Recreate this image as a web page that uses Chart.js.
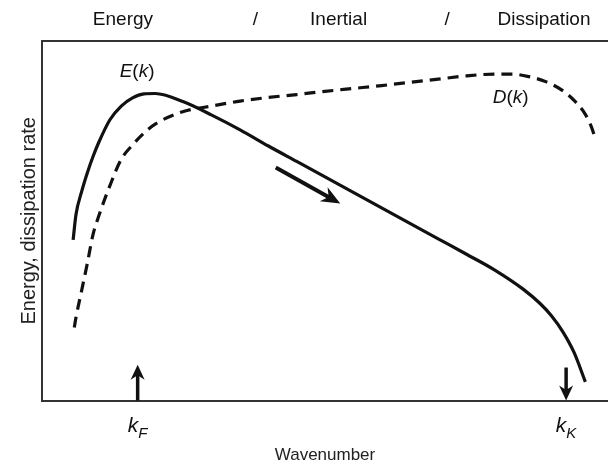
<!DOCTYPE html>
<html>
<head>
<meta charset="utf-8">
<script src="https://cdn.jsdelivr.net/npm/chart.js@4.4.0/dist/chart.umd.min.js"></script>
<style>
  html, body { margin: 0; padding: 0; background: #fff; }
</style>
</head>
<body>
<canvas id="chart" width="608" height="470"></canvas>
<script>
// wavenumber in arbitrary units (0..10)
const kEnergy = [0.55, 0.6, 0.7, 0.8, 0.9, 1.0, 1.2, 1.4, 1.6, 1.8, 2.0, 2.5, 3.0, 3.5, 4.0, 4.5, 5.0, 5.5, 6.0, 6.5, 7.0, 7.5, 8.0, 8.5, 8.8, 9.0, 9.2, 9.4, 9.6];
const energy = [4.47, 5.17, 5.81, 6.33, 6.78, 7.17, 7.81, 8.19, 8.42, 8.53, 8.54, 8.31, 7.94, 7.53, 7.08, 6.65, 6.22, 5.79, 5.36, 4.93, 4.50, 4.07, 3.63, 3.10, 2.70, 2.36, 1.92, 1.34, 0.52];

const kDiss = [0.57, 0.6, 0.7, 0.8, 0.9, 1.0, 1.2, 1.4, 1.6, 1.8, 2.0, 2.5, 3.0, 3.5, 4.0, 4.5, 5.0, 5.5, 6.0, 6.5, 7.0, 7.5, 8.0, 8.3, 8.6, 8.9, 9.2, 9.4, 9.6, 9.7, 9.78];
const dissipation = [2.03, 2.31, 3.06, 3.81, 4.61, 5.12, 5.98, 6.71, 7.11, 7.44, 7.69, 8.04, 8.19, 8.33, 8.43, 8.51, 8.60, 8.68, 8.76, 8.85, 8.94, 9.03, 9.08, 9.08, 9.01, 8.87, 8.62, 8.35, 7.96, 7.64, 7.27];

// forcing and Kolmogorov wavenumbers
const kMarks = [1.69, 9.26];
const kMarkSubs = ['F', 'K'];

// labels across the top and where they sit on the wavenumber axis
const regionNames = ['Energy', '/', 'Inertial', '/', 'Dissipation'];
const regionK = [1.43, 3.77, 5.24, 7.16, 8.87];

// the cascade arrow, from -> to
const cascade = [[4.13, 6.48], [5.27, 5.48]];

const ink = '#111';
const FONT = "'Liberation Sans', Arial, sans-serif";

function toPts(xs, ys) {
    return xs.map((x, i) => ({ x: x, y: ys[i] }));
}

function drawArrow(ctx, x1, y1, x2, y2, headLen, headW, lw) {
    const ang = Math.atan2(y2 - y1, x2 - x1);
    const c = Math.cos(ang), s = Math.sin(ang);
    ctx.beginPath();
    ctx.moveTo(x1, y1);
    ctx.lineTo(x2 - c * headLen * 0.6, y2 - s * headLen * 0.6);
    ctx.lineWidth = lw;
    ctx.strokeStyle = ink;
    ctx.stroke();
    ctx.beginPath();
    ctx.moveTo(x2, y2);
    ctx.lineTo(x2 - c * headLen + s * headW, y2 - s * headLen - c * headW);
    ctx.lineTo(x2 - c * headLen * 0.7, y2 - s * headLen * 0.7);
    ctx.lineTo(x2 - c * headLen - s * headW, y2 - s * headLen + c * headW);
    ctx.closePath();
    ctx.fillStyle = ink;
    ctx.fill();
}

// draws pieces of text (italic / subscript) centred on cx
function drawParts(ctx, parts, cx, cy, size) {
    const fontOf = p => (p.italic ? 'italic ' : '') + (p.sub ? Math.round(size * 0.7) : size) + 'px ' + FONT;
    let total = 0;
    parts.forEach(p => { ctx.font = fontOf(p); total += ctx.measureText(p.t).width; });
    let x = cx - total / 2;
    ctx.textAlign = 'left';
    ctx.textBaseline = 'middle';
    ctx.fillStyle = ink;
    parts.forEach(p => {
        ctx.font = fontOf(p);
        ctx.fillText(p.t, x, cy + (p.sub ? size * 0.35 : 0));
        x += ctx.measureText(p.t).width;
    });
}

const annotations = {
    id: 'annotations',
    afterDatasetsDraw(chart) {
        const ctx = chart.ctx;
        const xs = chart.scales.x, ys = chart.scales.y;
        ctx.save();

        // region labels above the frame
        ctx.font = '19px ' + FONT;
        ctx.fillStyle = ink;
        ctx.textAlign = 'center';
        ctx.textBaseline = 'middle';
        regionNames.forEach((name, i) => {
            ctx.fillText(name, xs.getPixelForValue(regionK[i]), 20);
        });

        // curve names
        drawParts(ctx, [{ t: 'E', italic: true }, { t: '(' }, { t: 'k', italic: true }, { t: ')' }],
            xs.getPixelForValue(1.68), ys.getPixelForValue(9.14), 19);
        drawParts(ctx, [{ t: 'D', italic: true }, { t: '(' }, { t: 'k', italic: true }, { t: ')' }],
            xs.getPixelForValue(8.28), ys.getPixelForValue(8.43), 19);

        // k_F up, k_K down
        const base = ys.getPixelForValue(0);
        drawArrow(ctx, xs.getPixelForValue(kMarks[0]), base, xs.getPixelForValue(kMarks[0]), ys.getPixelForValue(1.0), 15, 7, 3.5);
        drawArrow(ctx, xs.getPixelForValue(kMarks[1]), ys.getPixelForValue(0.92), xs.getPixelForValue(kMarks[1]), base, 15, 7, 3.5);

        kMarks.forEach((k, i) => {
            drawParts(ctx, [{ t: 'k', italic: true }, { t: kMarkSubs[i], italic: true, sub: true }],
                xs.getPixelForValue(k), base + 26, 21);
        });

        // energy cascade
        drawArrow(ctx, xs.getPixelForValue(cascade[0][0]), ys.getPixelForValue(cascade[0][1]),
            xs.getPixelForValue(cascade[1][0]), ys.getPixelForValue(cascade[1][1]), 19, 8, 4);

        ctx.restore();
    }
};

const axisBase = {
    type: 'linear',
    min: 0,
    max: 10,
    ticks: { display: false },
    grid: { display: false, drawTicks: false },
    border: { display: true, color: '#333', width: 2 }
};

new Chart(document.getElementById('chart'), {
    type: 'line',
    data: {
        datasets: [
            {
                label: 'E(k)',
                data: toPts(kEnergy, energy),
                borderColor: ink,
                borderWidth: 3.2,
                pointRadius: 0,
                cubicInterpolationMode: 'monotone',
                fill: false
            },
            {
                label: 'D(k)',
                data: toPts(kDiss, dissipation),
                borderColor: ink,
                borderWidth: 3.2,
                borderDash: [11, 7],
                pointRadius: 0,
                cubicInterpolationMode: 'monotone',
                fill: false
            }
        ]
    },
    options: {
        responsive: false,
        animation: false,
        devicePixelRatio: 1,
        layout: { padding: { top: 41, right: 0, bottom: 0, left: 0 } },
        plugins: { legend: { display: false }, tooltip: { enabled: false } },
        scales: {
            x: Object.assign({}, axisBase, {
                position: 'bottom',
                title: {
                    display: true,
                    text: 'Wavenumber',
                    color: '#222',
                    font: { family: FONT, size: 17 },
                    padding: { top: 45, bottom: 4 }
                }
            }),
            x2: Object.assign({}, axisBase, { position: 'top' }),
            y: Object.assign({}, axisBase, {
                position: 'left',
                title: {
                    display: true,
                    text: 'Energy, dissipation rate',
                    color: '#222',
                    font: { family: FONT, size: 20 },
                    padding: { top: 17, bottom: 1 }
                }
            })
        }
    },
    plugins: [annotations]
});
</script>
</body>
</html>
